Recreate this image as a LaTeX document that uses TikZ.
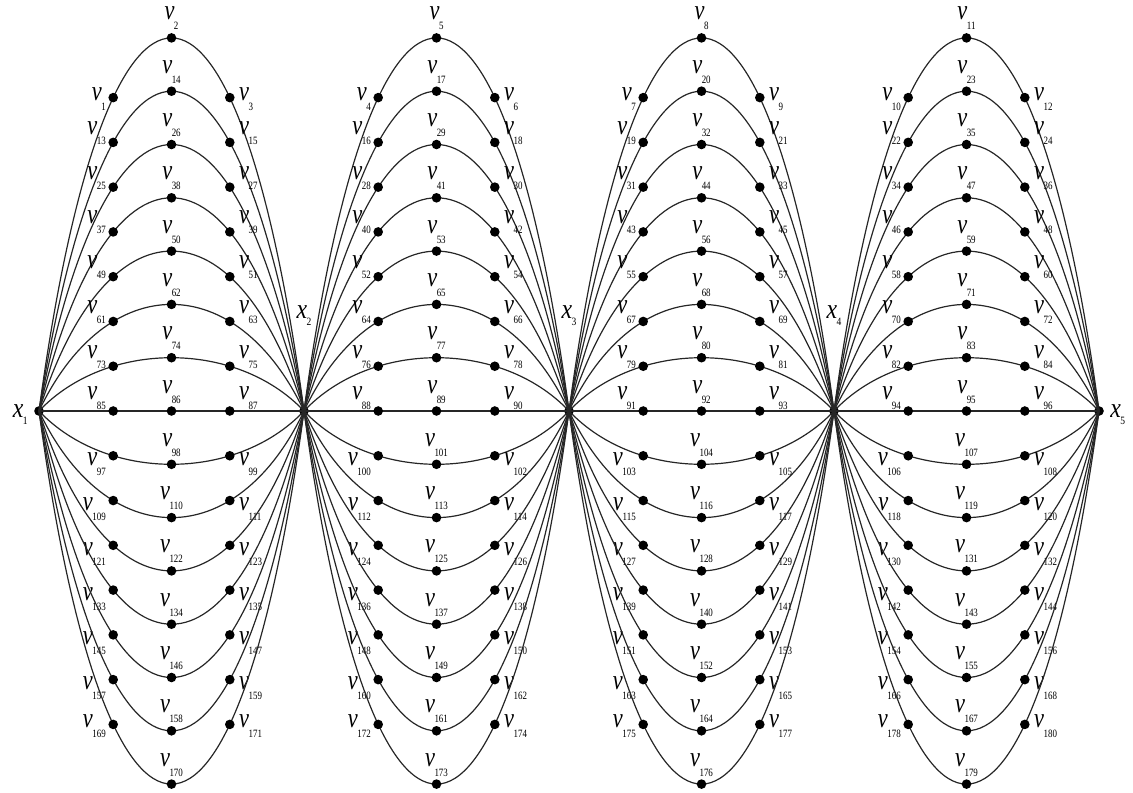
\documentclass[tikz,border=0pt]{standalone}
\usepackage{fontspec}
\setmainfont{Liberation Serif}
\usepackage{graphicx}
\newcommand\vlab[1]{\scalebox{0.8}[1]{\fontsize{14}{14}\selectfont\itshape v\kern-0.3pt\raisebox{-5pt}{\fontsize{5.6}{6}\selectfont\upshape #1}}}
\newcommand\xlab[1]{\scalebox{0.85}[1]{\fontsize{14}{14}\selectfont\itshape x\kern-0.3pt\raisebox{-3.5pt}{\fontsize{5.6}{6}\selectfont\upshape #1}}}
\begin{document}
\begin{tikzpicture}[x=0.5pt,y=-0.5pt,
  dot/.style={circle, fill=black, inner sep=0pt, minimum size=4.8pt},
  curve/.style={draw=black!85, line width=0.6pt}]
\useasboundingbox (0,0) rectangle (1133,792);
\foreach \i in {1,...,5} {
  \pgfmathsetmacro\xx{39+265*(\i-1)}
  \node[dot] (x\i) at (\xx,411) {};
}
\foreach \s in {0,...,3} {
  \foreach \r in {1,...,15} {
    \pgfmathsetmacro\xL{39+265*\s}
    \pgfmathsetmacro\cA{\xL+0.254*265}
    \pgfmathsetmacro\cB{\xL+0.746*265}
    \pgfmathsetmacro\cy{411-4/3*53.3*(8-\r)}
    \pgfmathtruncatemacro\na{(\r-1)*12+\s*3+1}
    \pgfmathtruncatemacro\nb{\na+1}
    \pgfmathtruncatemacro\nc{\na+2}
    \pgfmathtruncatemacro\sa{\s+1}
    \pgfmathtruncatemacro\sb{\s+2}
    \pgfmathsetmacro\ys{\r==1 ? -1.5 : (\r<8 ? 4 : (\r==8 ? 6 : (\r<15 ? -5 : -1.5)))}
    \draw[curve] (x\sa.center) .. controls (\cA,\cy) and (\cB,\cy) .. (x\sb.center)
      node[dot,pos=0.3] (v\na) {}
      node[dot,pos=0.5] (v\nb) {}
      node[dot,pos=0.7] (v\nc) {};
    \node[anchor=base, yshift=9pt, inner sep=0pt] at (v\nb) {\vlab{\nb}};
    \node[anchor=base east, xshift=-3.5pt, yshift=\ys pt, inner sep=0pt] at (v\na) {\vlab{\na}};
    \node[anchor=base west, xshift=4.5pt, yshift=\ys pt, inner sep=0pt] at (v\nc) {\vlab{\nc}};
  }
}
\node[anchor=base east, xshift=-5.5pt, yshift=-3pt, inner sep=0pt] at (x1) {\xlab{1}};
\node[anchor=base, yshift=46.5pt, inner sep=0pt] at (x2) {\xlab{2}};
\node[anchor=base, yshift=46.5pt, inner sep=0pt] at (x3) {\xlab{3}};
\node[anchor=base, yshift=46.5pt, inner sep=0pt] at (x4) {\xlab{4}};
\node[anchor=base west, xshift=5.5pt, yshift=-3pt, inner sep=0pt] at (x5) {\xlab{5}};
\end{tikzpicture}
\end{document}
